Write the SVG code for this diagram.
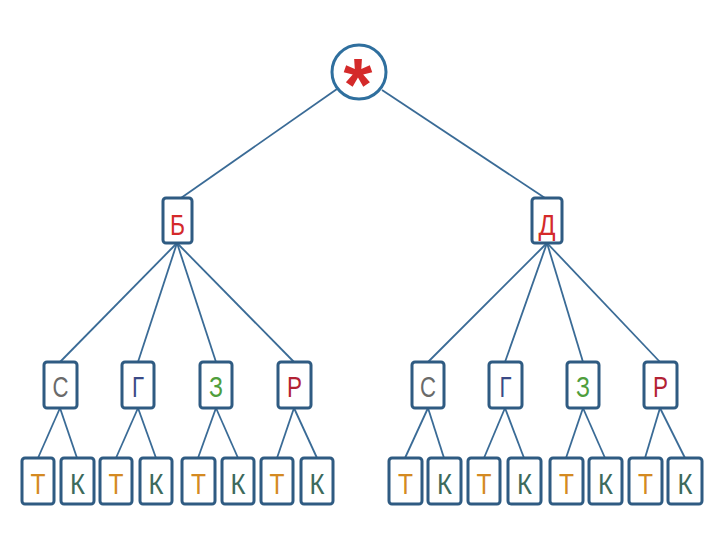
<svg xmlns="http://www.w3.org/2000/svg" width="720" height="540" viewBox="0 0 720 540">
<style>
.box{fill:#ffffff;stroke:#2f5b82;stroke-width:3}
.ln{stroke:#3a6b96;stroke-width:1.8;fill:none}
text{font-family:"Liberation Sans Narrow","Liberation Sans",Arial,sans-serif;font-size:30px;text-anchor:middle}
.r{fill:#d42a2a}.c{fill:#6a6a6a}.g{fill:#3a4a86}.z{fill:#4f9e3c}.p{fill:#b22234}.t{fill:#d48a22}.k{fill:#3c6a5c}
</style>
<rect width="720" height="540" fill="#ffffff"/>
<g id="connectors">
<line class="ln" x1="337" y1="89" x2="181" y2="198"/>
<line class="ln" x1="382" y1="90" x2="545" y2="198"/>
<line class="ln" x1="177" y1="243" x2="60" y2="362"/>
<line class="ln" x1="177" y1="243" x2="138" y2="362"/>
<line class="ln" x1="177" y1="243" x2="216" y2="362"/>
<line class="ln" x1="177" y1="243" x2="294" y2="362"/>
<line class="ln" x1="547" y1="243" x2="428" y2="362"/>
<line class="ln" x1="547" y1="243" x2="505" y2="362"/>
<line class="ln" x1="547" y1="243" x2="583" y2="362"/>
<line class="ln" x1="547" y1="243" x2="660" y2="362"/>
<line class="ln" x1="60" y1="408" x2="38" y2="458"/>
<line class="ln" x1="60" y1="408" x2="77" y2="458"/>
<line class="ln" x1="138" y1="408" x2="116" y2="458"/>
<line class="ln" x1="138" y1="408" x2="156" y2="458"/>
<line class="ln" x1="216" y1="408" x2="198" y2="458"/>
<line class="ln" x1="216" y1="408" x2="238" y2="458"/>
<line class="ln" x1="294" y1="408" x2="277" y2="458"/>
<line class="ln" x1="294" y1="408" x2="317" y2="458"/>
<line class="ln" x1="428" y1="408" x2="405" y2="458"/>
<line class="ln" x1="428" y1="408" x2="444" y2="458"/>
<line class="ln" x1="505" y1="408" x2="484" y2="458"/>
<line class="ln" x1="505" y1="408" x2="524" y2="458"/>
<line class="ln" x1="583" y1="408" x2="566" y2="458"/>
<line class="ln" x1="583" y1="408" x2="605" y2="458"/>
<line class="ln" x1="660" y1="408" x2="645" y2="458"/>
<line class="ln" x1="660" y1="408" x2="685" y2="458"/>
</g>
<g id="root"><circle cx="359" cy="72" r="27" fill="#ffffff" stroke="#2f6f9e" stroke-width="3"/><text x="358" y="110" class="r" style="font-size:74px;font-weight:bold;font-family:'Liberation Sans',Arial,sans-serif">*</text></g>
<g id="n-b"><rect class="box" x="163" y="198" width="29" height="45" rx="3"/><text x="177.5" y="235" class="r" textLength="15" lengthAdjust="spacingAndGlyphs">Б</text></g>
<g id="n-d"><rect class="box" x="532" y="198" width="30" height="45" rx="3"/><text x="547" y="235" class="r" textLength="17" lengthAdjust="spacingAndGlyphs">Д</text></g>
<g id="l-s"><rect class="box" x="44" y="362" width="33" height="46" rx="3"/><text x="60.5" y="397" class="c" textLength="16" lengthAdjust="spacingAndGlyphs">С</text></g>
<g id="l-g"><rect class="box" x="122" y="362" width="32" height="46" rx="3"/><text x="138" y="397" class="g" textLength="12" lengthAdjust="spacingAndGlyphs">Г</text></g>
<g id="l-z"><rect class="box" x="200" y="362" width="32" height="46" rx="3"/><text x="216" y="397" class="z" textLength="14" lengthAdjust="spacingAndGlyphs">З</text></g>
<g id="l-r"><rect class="box" x="278" y="362" width="33" height="46" rx="3"/><text x="294.5" y="397" class="p" textLength="15" lengthAdjust="spacingAndGlyphs">Р</text></g>
<g id="r-s"><rect class="box" x="412" y="362" width="32" height="46" rx="3"/><text x="428" y="397" class="c" textLength="16" lengthAdjust="spacingAndGlyphs">С</text></g>
<g id="r-g"><rect class="box" x="489" y="362" width="33" height="46" rx="3"/><text x="505.5" y="397" class="g" textLength="12" lengthAdjust="spacingAndGlyphs">Г</text></g>
<g id="r-z"><rect class="box" x="567" y="362" width="32" height="46" rx="3"/><text x="583" y="397" class="z" textLength="14" lengthAdjust="spacingAndGlyphs">З</text></g>
<g id="r-r"><rect class="box" x="644" y="362" width="33" height="46" rx="3"/><text x="660.5" y="397" class="p" textLength="15" lengthAdjust="spacingAndGlyphs">Р</text></g>
<g id="lt1"><rect class="box" x="22" y="458" width="32" height="46" rx="3"/><text x="38" y="494" class="t" textLength="15" lengthAdjust="spacingAndGlyphs">Т</text></g>
<g id="lk1"><rect class="box" x="61" y="458" width="33" height="46" rx="3"/><text x="77.5" y="494" class="k" textLength="15" lengthAdjust="spacingAndGlyphs">К</text></g>
<g id="lt2"><rect class="box" x="100" y="458" width="32" height="46" rx="3"/><text x="116" y="494" class="t" textLength="15" lengthAdjust="spacingAndGlyphs">Т</text></g>
<g id="lk2"><rect class="box" x="140" y="458" width="32" height="46" rx="3"/><text x="156" y="494" class="k" textLength="15" lengthAdjust="spacingAndGlyphs">К</text></g>
<g id="lt3"><rect class="box" x="182" y="458" width="33" height="46" rx="3"/><text x="198.5" y="494" class="t" textLength="15" lengthAdjust="spacingAndGlyphs">Т</text></g>
<g id="lk3"><rect class="box" x="222" y="458" width="32" height="46" rx="3"/><text x="238" y="494" class="k" textLength="15" lengthAdjust="spacingAndGlyphs">К</text></g>
<g id="lt4"><rect class="box" x="261" y="458" width="32" height="46" rx="3"/><text x="277" y="494" class="t" textLength="15" lengthAdjust="spacingAndGlyphs">Т</text></g>
<g id="lk4"><rect class="box" x="301" y="458" width="32" height="46" rx="3"/><text x="317" y="494" class="k" textLength="15" lengthAdjust="spacingAndGlyphs">К</text></g>
<g id="rt1"><rect class="box" x="389" y="458" width="33" height="46" rx="3"/><text x="405.5" y="494" class="t" textLength="15" lengthAdjust="spacingAndGlyphs">Т</text></g>
<g id="rk1"><rect class="box" x="428" y="458" width="33" height="46" rx="3"/><text x="444.5" y="494" class="k" textLength="15" lengthAdjust="spacingAndGlyphs">К</text></g>
<g id="rt2"><rect class="box" x="468" y="458" width="32" height="46" rx="3"/><text x="484" y="494" class="t" textLength="15" lengthAdjust="spacingAndGlyphs">Т</text></g>
<g id="rk2"><rect class="box" x="508" y="458" width="33" height="46" rx="3"/><text x="524.5" y="494" class="k" textLength="15" lengthAdjust="spacingAndGlyphs">К</text></g>
<g id="rt3"><rect class="box" x="550" y="458" width="33" height="46" rx="3"/><text x="566.5" y="494" class="t" textLength="15" lengthAdjust="spacingAndGlyphs">Т</text></g>
<g id="rk3"><rect class="box" x="589" y="458" width="33" height="46" rx="3"/><text x="605.5" y="494" class="k" textLength="15" lengthAdjust="spacingAndGlyphs">К</text></g>
<g id="rt4"><rect class="box" x="629" y="458" width="33" height="46" rx="3"/><text x="645.5" y="494" class="t" textLength="15" lengthAdjust="spacingAndGlyphs">Т</text></g>
<g id="rk4"><rect class="box" x="668" y="458" width="34" height="46" rx="3"/><text x="685" y="494" class="k" textLength="15" lengthAdjust="spacingAndGlyphs">К</text></g>
</svg>
